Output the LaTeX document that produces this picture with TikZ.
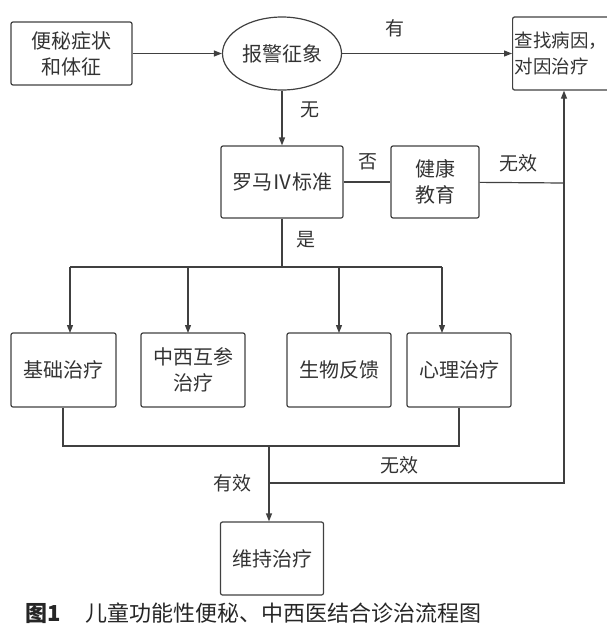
\documentclass[tikz,border=0pt]{standalone}
\usepackage{fontspec}
\setmainfont{Noto Sans CJK SC}
\usetikzlibrary{arrows.meta,shapes.geometric}
\begin{document}
\begin{tikzpicture}[x=1pt,y=-1pt,
  bx/.style={draw=black!75,line width=1.2pt,rounded corners=2pt,align=center,font=\fontsize{20}{26}\selectfont,text=black!80,inner sep=0pt},
  ln/.style={draw=black!75,line width=1.2pt},
  ar/.style={ln,-{Triangle[length=8pt,width=6pt]}},
  lb/.style={font=\fontsize{19}{22}\selectfont,text=black!80}]
\useasboundingbox (0,0) rectangle (607,627);
\node[bx,minimum width=121pt,minimum height=63pt] (a) at (71.5,53.5) {便秘症状\\和体征};
\node[draw=black!75,line width=1.2pt,ellipse,minimum width=119pt,minimum height=73pt,inner sep=0pt,font=\fontsize{20}{22}\selectfont,text=black!80] (b) at (282,53.5) {报警征象};
\node[bx,minimum width=100pt,minimum height=73pt,anchor=west,align=left,text width=96pt,inner xsep=2pt,font=\fontsize{18.5}{26}\selectfont] (c) at (512,53.5) {查找病因，\\对因治疗};
\node[bx,minimum width=122pt,minimum height=72pt] (d) at (282,182) {罗马Ⅳ标准};
\node[bx,minimum width=88pt,minimum height=72pt] (e) at (435,182) {健康\\教育};
\node[bx,minimum width=105pt,minimum height=74pt] (f1) at (63.5,370) {基础治疗};
\node[bx,minimum width=104pt,minimum height=74pt] (f2) at (193,370) {中西互参\\治疗};
\node[bx,minimum width=104pt,minimum height=74pt] (f3) at (339,370) {生物反馈};
\node[bx,minimum width=104pt,minimum height=74pt] (f4) at (459,370) {心理治疗};
\node[bx,minimum width=103pt,minimum height=73pt] (g) at (272,558.5) {维持治疗};
\coordinate (jv) at (564,183);
\coordinate (jt) at (282,267);
\coordinate (jb) at (269,446);
\coordinate (jn) at (269,483);
\draw[ar] (a) -- (b);
\draw[ar] (b) -- (c.west|-b);
\draw[ar] (b) -- (d);
\draw[ln] (d) -- (e);
\draw[ln] (e) -- (jv);
\draw[ln] (d.south) -- (jt);
\draw[ln] (70,267) -- (442,267);
\draw[ar] (70,267) -- (70,333);
\draw[ar] (188,267) -- (188,333);
\draw[ar] (339,267) -- (339,333);
\draw[ar] (442,267) -- (442,333);
\draw[ln] (f1.south-|63,0) |- (jb) -| (f4.south);
\draw[ar] (jb) -- (g.north-|jb);
\draw[ar] (jn) -| (c.south-|jv);
\node[lb] at (395,28) {有};
\node[lb] at (310,110) {无};
\node[lb] at (368,162) {否};
\node[lb] at (518,163) {无效};
\node[lb] at (306,240) {是};
\node[lb] at (399,465) {无效};
\node[lb] at (232,483) {有效};
\node[anchor=west,font=\fontsize{22}{26}\selectfont,text=black!85] at (22,613) {\textbf{图1}\hspace{1.1em}儿童功能性便秘、中西医结合诊治流程图};
\end{tikzpicture}
\end{document}
